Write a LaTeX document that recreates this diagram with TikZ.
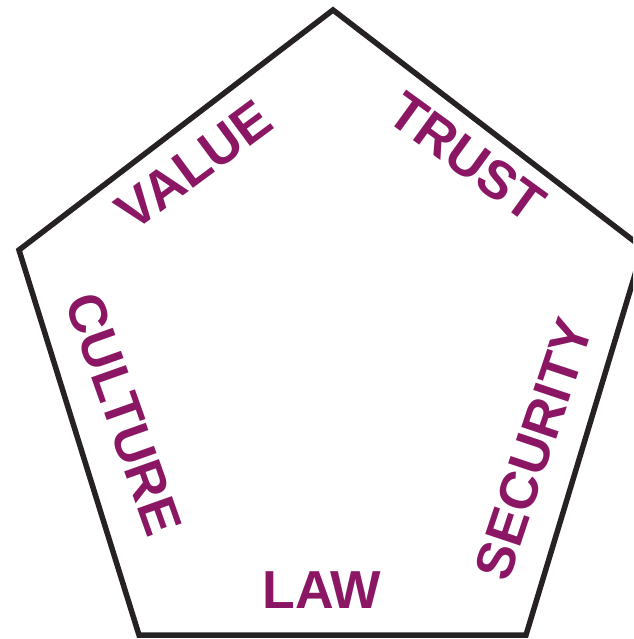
\documentclass[tikz,border=0pt]{standalone}
\usepackage{fontspec}
\setmainfont{Liberation Sans}
\definecolor{wordc}{RGB}{139,22,100}
\definecolor{edgec}{RGB}{38,34,35}
\tikzset{word/.style={font=\bfseries\fontsize{53.5}{53.5}\selectfont,text=wordc,inner sep=0pt,transform shape=false}}
\begin{document}
\begin{tikzpicture}[x=1pt,y=-1pt]
\useasboundingbox (0,0) rectangle (633,639);
\clip (0,0) rectangle (633,639);
\coordinate (a) at (333,10);
\coordinate (b) at (643,248);
\coordinate (c) at (526,635);
\coordinate (d) at (139,635);
\coordinate (e) at (19,250);
\draw[edgec,line width=5.5pt,miter limit=10] (b) -- (a) -- (e) -- (d) -- (c) -- (b);
\node[word,rotate=36.5] (v) at (194,165) {VALUE};
\node[word,rotate=-36] (t) at (467,157) {TRUST};
\node[word,rotate=-70.5] (c1) at (124,414) {CULTURE};
\node[word,rotate=71.5] (s) at (533.5,449) {SECURITY};
\node[word] (l) at (322,590) {LAW};
\end{tikzpicture}
\end{document}
